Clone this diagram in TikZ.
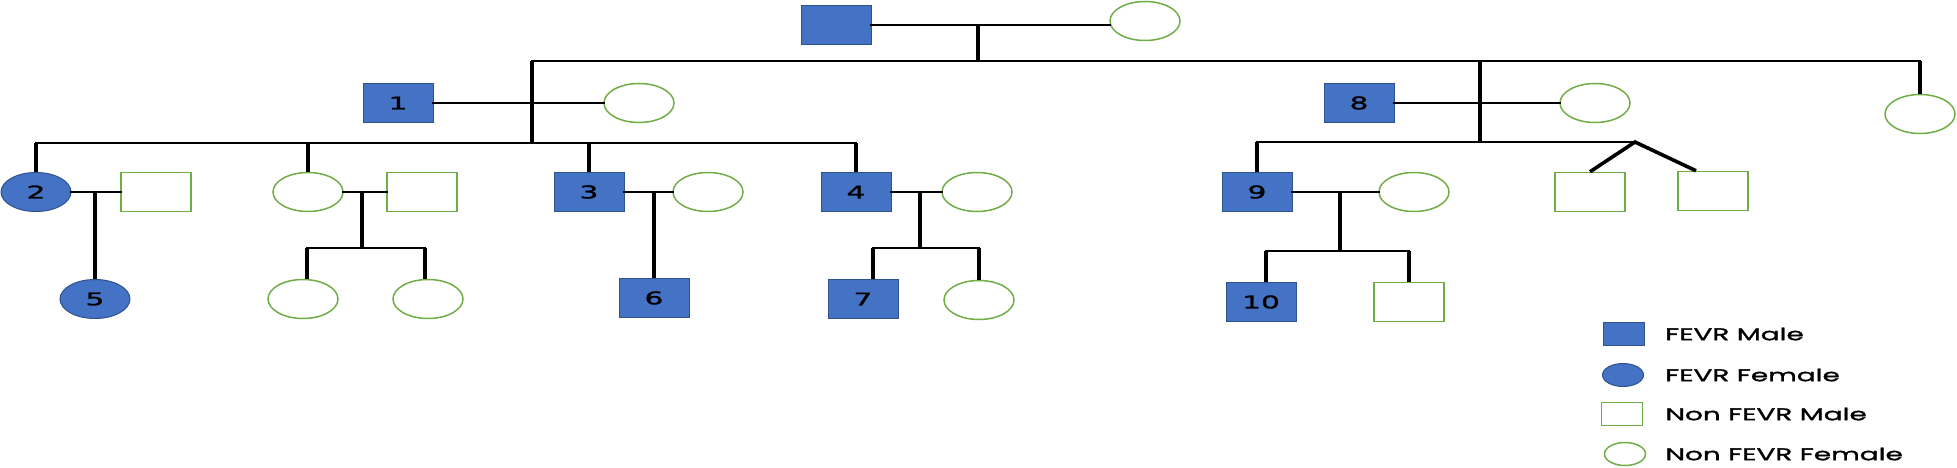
\documentclass[tikz,border=0pt]{standalone}
\usepackage{xcolor}
\usepackage{fontspec}
\usepackage{tikz}
\usetikzlibrary{positioning, shapes.geometric}
\newfontfamily\pedfont[FakeStretch=1.64, FakeBold=1.6]{Poppins}
\newfontfamily\numfont[FakeStretch=1.7, FakeBold=1.4]{DejaVu Sans}
\definecolor{fevrblue}{HTML}{4472C4}
\definecolor{fevredge}{HTML}{2F528F}
\definecolor{nongreen}{HTML}{70AD47}

\begin{document}
\begin{tikzpicture}[
    x=1pt, y=-1pt,
    person/.style={minimum width=70pt, minimum height=39pt, inner sep=0pt,
                   font=\numfont\fontsize{17.5}{17.5}\selectfont},
    fmale/.style={person, rectangle, draw=fevredge, line width=1pt, fill=fevrblue},
    ffemale/.style={person, ellipse, draw=fevredge, line width=1pt, fill=fevrblue},
    nmale/.style={person, rectangle, draw=nongreen, line width=1.5pt, fill=white},
    nfemale/.style={person, ellipse, draw=nongreen, line width=1.5pt, fill=white},
    key/.style={minimum width=41pt, minimum height=23pt},
    keytext/.style={inner sep=0pt, font=\pedfont\fontsize{17}{17}\selectfont},
    hline/.style={line width=2.6pt, line cap=rect},
    vline/.style={line width=4.7pt},
    node distance=20pt
]
\useasboundingbox (0,0) rectangle (1957,468);

\node[fmale] (gf) at (836,25) {};
\node[nfemale] (gm) at (1145,21) {};

\node[fmale] (p1) at (398,103) {1};
\node[nfemale] (w1) at (639,103) {};
\node[fmale] (p8) at (1359,103) {8};
\node[nfemale] (w8) at (1595,103) {};
\node[nfemale] (aunt) at (1920,114) {};

\node[ffemale] (p2) at (36,192) {2};
\node[nmale] (h2) at (156,192) {};
\node[nfemale] (d1) at (308,192) {};
\node[nmale] (h1) at (422,192) {};
\node[fmale] (p3) at (589,192) {3};
\node[nfemale] (w3) at (708,192) {};
\node[fmale] (p4) at (856,192) {4};
\node[nfemale] (w4) at (977,192) {};
\node[fmale] (p9) at (1257,192) {9};
\node[nfemale] (w9) at (1414,192) {};
\node[nmale] (t1) at (1590,192) {};
\node[nmale] (t2) at (1713,191) {};

\node[ffemale] (p5) at (95,299) {5};
\node[nfemale] (g1) at (303,299) {};
\node[nfemale] (g2) at (428,299) {};
\node[fmale] (p6) at (654,298) {6};
\node[fmale] (p7) at (863,299) {7};
\node[nfemale] (g7) at (979,300) {};
\node[fmale] (p10) at (1261,302) {10};
\node[nmale] (s10) at (1409,302) {};

\coordinate (sib0) at (978,61);
\coordinate (j1) at (532,143);
\coordinate (j8) at (1480,142);
\coordinate (tw) at (1635,142);
\coordinate (j2) at (362,248);
\coordinate (j4) at (920,248);
\coordinate (j9) at (1340,251);
\coordinate (d1a) at ([xshift=4pt]g1.north);
\coordinate (d1b) at ([xshift=-3pt]g2.north);
\coordinate (d7) at ([xshift=10pt]p7.north);
\coordinate (d10) at ([xshift=5pt]p10.north);
\coordinate (d2) at ([xshift=-17pt]t2.north);

\draw[hline] (gf.east) -- (gm.west |- gf.east);
\draw[vline] (gf.east -| sib0) -- (sib0);
\draw[hline] (sib0 -| j1) -- (sib0 -| aunt.north);
\draw[vline] (sib0 -| j1) -- (j1);
\draw[vline] (sib0 -| j8) -- (j8);
\draw[vline] (sib0 -| aunt.north) -- (aunt.north);

\draw[hline] (p1.east) -- (w1.west);
\draw[hline] (p8.east) -- (w8.west);
\draw[hline] (p2.north |- j1) -- (p4.north |- j1);
\foreach \c in {p2,d1,p3,p4}
    \draw[vline] (\c.north |- j1) -- (\c.north);
\draw[hline] (p9.north |- j8) -- (tw);
\draw[vline] (p9.north |- j8) -- (p9.north);
\draw[line width=3.6pt] (t1.north) -- (tw) -- (d2);

\draw[hline] (p2.east) -- (h2.west);
\draw[vline] (p5.north |- p2.east) -- (p5.north);
\draw[hline] (d1.east) -- (h1.west);
\draw[vline] (d1.east -| j2) -- (j2);
\draw[hline] (d1a |- j2) -- (d1b |- j2);
\draw[vline] (d1a |- j2) -- (d1a);
\draw[vline] (d1b |- j2) -- (d1b);
\draw[hline] (p3.east) -- (w3.west);
\draw[vline] (p6.north |- p3.east) -- (p6.north);
\draw[hline] (p4.east) -- (w4.west);
\draw[vline] (p4.east -| j4) -- (j4);
\draw[hline] (d7 |- j4) -- (g7.north |- j4);
\draw[vline] (d7 |- j4) -- (d7);
\draw[vline] (g7.north |- j4) -- (g7.north);
\draw[hline] (p9.east) -- (w9.west);
\draw[vline] (p9.east -| j9) -- (j9);
\draw[hline] (d10 |- j9) -- (s10.north |- j9);
\draw[vline] (d10 |- j9) -- (d10);
\draw[vline] (s10.north |- j9) -- (s10.north);

\node[fmale, key] (k1) at (1624,334) {};
\node[keytext, right=20pt of k1] {FEVR Male};
\node[ffemale, key] (k2) at (1623,375) {};
\node[keytext, right=21pt of k2] {FEVR Female};
\node[nmale, key] (k3) at (1622,414) {};
\node[keytext, right=22pt of k3] {Non FEVR Male};
\node[nfemale, key] (k4) at (1625,454) {};
\node[keytext, right=19pt of k4] {Non FEVR Female};
\end{tikzpicture}
\end{document}
